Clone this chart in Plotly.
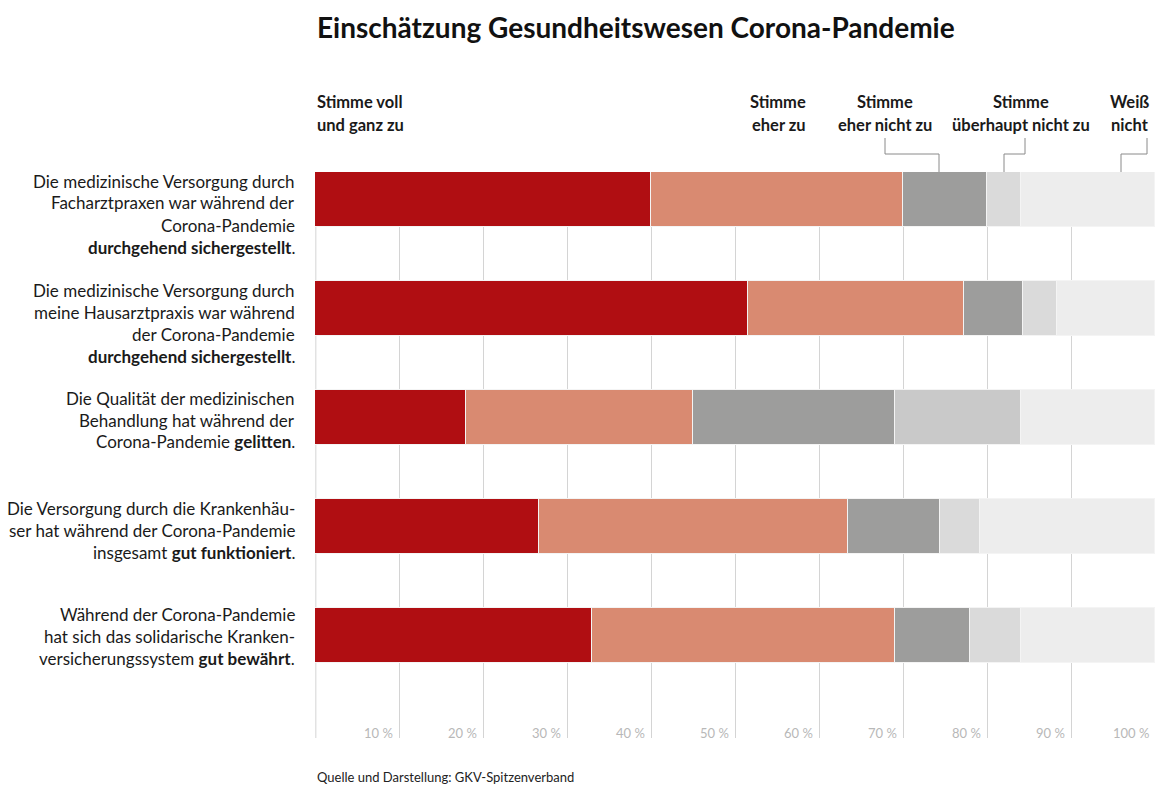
import plotly.graph_objects as go

# Survey statements (rows, top to bottom)
statements = [
    ["Die medizinische Versorgung durch", "Facharztpraxen war während der",
     "Corona-Pandemie", "<b>durchgehend sichergestellt</b>."],
    ["Die medizinische Versorgung durch", "meine Hausarztpraxis war während",
     "der Corona-Pandemie", "<b>durchgehend sichergestellt</b>."],
    ["Die Qualität der medizinischen", "Behandlung hat während der",
     "Corona-Pandemie <b>gelitten</b>."],
    ["Die Versorgung durch die Krankenhäu-", "ser hat während der Corona-Pandemie",
     "insgesamt <b>gut funktioniert</b>."],
    ["Während der Corona-Pandemie", "hat sich das solidarische Kranken-",
     "versicherungssystem <b>gut bewährt</b>."],
]

# Answer shares in percent
voll_und_ganz = [40, 51.5, 18, 26.7, 33]
eher_zu = [30, 25.8, 27, 36.8, 36]
eher_nicht_zu = [10, 7, 24, 10.9, 9]
ueberhaupt_nicht_zu = [4, 4, 15, 4.8, 6]
weiss_nicht = [16, 11.7, 16, 20.8, 16]

tick_values = [10, 20, 30, 40, 50, 60, 70, 80, 90, 100]
tick_labels = ["10 %", "20 %", "30 %", "40 %", "50 %", "60 %", "70 %", "80 %", "90 %", "100 %"]

series = [
    ("Stimme voll und ganz zu", voll_und_ganz, ["#b00e12"] * 5),
    ("Stimme eher zu", eher_zu, ["#d98a71"] * 5),
    ("Stimme eher nicht zu", eher_nicht_zu, ["#9d9d9c"] * 5),
    ("Stimme überhaupt nicht zu", ueberhaupt_nicht_zu,
     ["#dadada", "#dadada", "#c9c9c9", "#dadada", "#dadada"]),
    ("Weiß nicht", weiss_nicht, ["#ededed"] * 5),
]

W, H = 1158, 787
L, R, T, B = 315, 3, 172, 49
PW = W - L - R
PH = H - T - B

rows = list(range(len(statements)))
fig = go.Figure()
for name, vals, cols in series:
    fig.add_trace(go.Bar(
        y=rows, x=vals, name=name, orientation="h",
        marker=dict(color=cols, line=dict(color="#f4f4f4", width=1)),
        width=0.505, hoverinfo="x+name",
    ))


def px_x(x):
    return (x - L) / PW * 100


def px_y(y):
    return (H - B - y) / PH


annotations = []
# Row labels (right aligned, one annotation per line)
label_tops = [181, 290, 398, 508, 614]
for top, lines in zip(label_tops, statements):
    for i, line in enumerate(lines):
        annotations.append(dict(
            text=line, xref="paper", yref="paper",
            x=(297 - L) / PW, y=px_y(top + 22 * i),
            xanchor="right", yanchor="middle", showarrow=False,
            font=dict(family="Lato", size=17, color="#1a1a1a"),
        ))

# Column headers above the bars
hdr_font = dict(family="Lato", size=16.5, color="#1a1a1a")
headers = [
    (315, "left", ["Stimme voll", "und ganz zu"]),
    (808, "right", ["Stimme", "eher zu"]),
    (885, "center", ["Stimme", "eher nicht zu"]),
    (1021, "center", ["Stimme", "überhaupt nicht zu"]),
    (1151, "right", ["Weiß", "nicht"]),
]
for x, anchor, lines in headers:
    for i, line in enumerate(lines):
        annotations.append(dict(
            text="<b>%s</b>" % line, xref="x", yref="paper",
            x=px_x(x), y=px_y(102 + 23 * i),
            xanchor=anchor, yanchor="middle", showarrow=False, font=hdr_font,
        ))

# Tick labels placed just left of their grid lines
for v, t in zip(tick_values, tick_labels):
    annotations.append(dict(
        text=t, xref="x", yref="paper", x=v, y=px_y(733), xshift=-4,
        xanchor="right", yanchor="middle", showarrow=False,
        font=dict(family="Lato", size=13, color="#b8b8b8"),
    ))

# Title and source
annotations.append(dict(
    text="<b>Einschätzung Gesundheitswesen Corona-Pandemie</b>",
    xref="paper", yref="paper", x=0, y=px_y(27), xanchor="left", yanchor="middle",
    showarrow=False, font=dict(family="Lato", size=28, color="#111111"),
))
annotations.append(dict(
    text="Quelle und Darstellung: GKV-Spitzenverband",
    xref="paper", yref="paper", x=0, y=px_y(777), xanchor="left", yanchor="middle",
    showarrow=False, font=dict(family="Lato", size=13, color="#222222"),
))

# Leader lines from headers to their segments
leader_color = "#8a8a8a"
leaders = [
    [(885, 138), (885, 154), (939, 154), (939, 172)],
    [(1025, 138), (1025, 154), (1004, 154), (1004, 172)],
    [(1147, 138), (1147, 154), (1121, 154), (1121, 172)],
]
shapes = []
for pts in leaders:
    for (x0, y0), (x1, y1) in zip(pts[:-1], pts[1:]):
        shapes.append(dict(
            type="line", xref="x", yref="paper",
            x0=px_x(x0), x1=px_x(x1), y0=px_y(y0), y1=px_y(y1),
            line=dict(color=leader_color, width=1), layer="above",
        ))

# Base line at 0 % behind the bars
shapes.append(dict(
    type="line", xref="x", yref="paper", x0=0.1, x1=0.1, y0=0, y1=1,
    line=dict(color="#d4d4d4", width=1), layer="below",
))

fig.update_layout(
    barmode="stack",
    width=W, height=H,
    margin=dict(l=L, r=R, t=T, b=B, pad=0),
    paper_bgcolor="white", plot_bgcolor="white",
    showlegend=False,
    bargap=0,
    xaxis=dict(
        range=[0, 100], tickvals=tick_values, showticklabels=False,
        showgrid=True, gridcolor="#d4d4d4", gridwidth=1,
        zeroline=False, showline=False, fixedrange=True,
    ),
    yaxis=dict(
        range=[4.94, -0.2525], showticklabels=False, showgrid=False,
        zeroline=False, showline=False, fixedrange=True,
    ),
    annotations=annotations,
    shapes=shapes,
)

fig.write_html("out.html", config={"displayModeBar": False})
